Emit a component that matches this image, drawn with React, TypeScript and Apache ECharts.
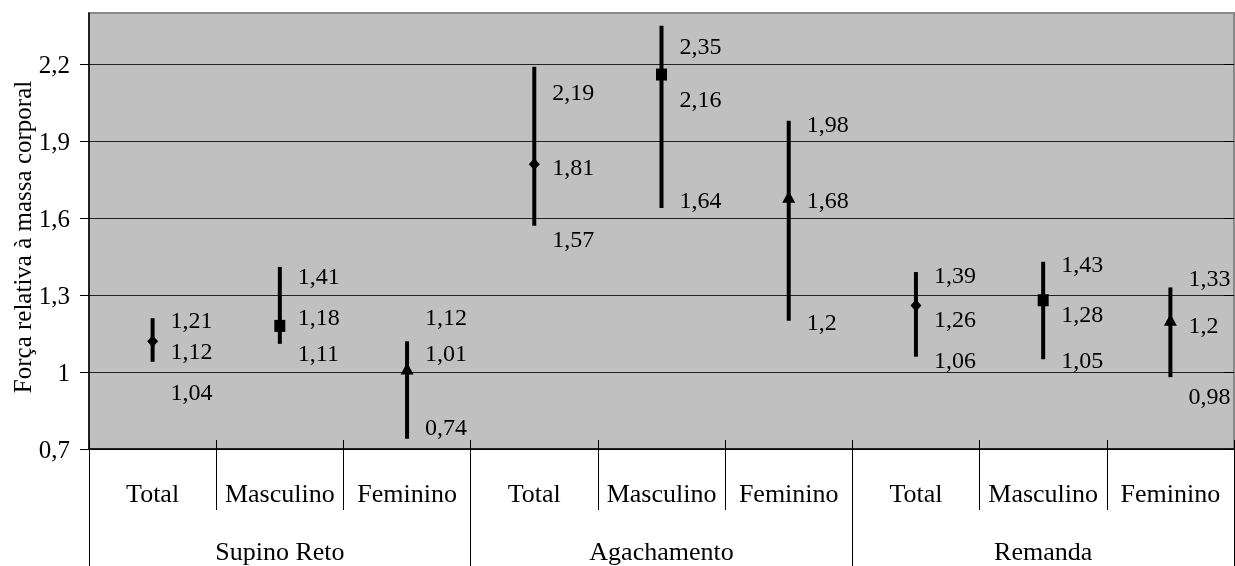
import React, { useEffect, useRef } from "react";
import * as echarts from "echarts";

const groups = ["Supino Reto", "Agachamento", "Remanda"];
const subcategories = ["Total", "Masculino", "Feminino"];
const highs = [1.21, 1.41, 1.12, 2.19, 2.35, 1.98, 1.39, 1.43, 1.33];
const means = [1.12, 1.18, 1.01, 1.81, 2.16, 1.68, 1.26, 1.28, 1.2];
const lows = [1.04, 1.11, 0.74, 1.57, 1.64, 1.2, 1.06, 1.05, 0.98];
const yTicks = [0.7, 1, 1.3, 1.6, 1.9, 2.2];

// label placement offsets (px) relative to each mark, as in the reference layout
const hiOff = [2, 9, -24, 25, 20, 3, 3, 2, -9];
const meanOff = [10, -9, -16, 3, 24, 2, 14, 14, 4];
const loOff = [30, 9, -12, 13, -8, 1, 3, 1, 19];

const categories = groups.flatMap(() => subcategories);
const FONT = '"Liberation Serif", "Times New Roman", serif';
const fmt = (v: number) => String(Math.round(v * 100) / 100).replace(".", ",");

export default function App() {
  const ref = useRef<HTMLDivElement>(null);
  useEffect(() => {
    document.body.style.margin = "0";
    const chart = echarts.init(ref.current!, undefined, { renderer: "svg" });
    const data = categories.map((_, i) => [i, highs[i], means[i], lows[i]]);
    chart.setOption({
      animation: false,
      textStyle: { fontFamily: FONT },
      grid: {
        left: 89,
        right: 1,
        top: 13,
        bottom: 117,
        show: true,
        containLabel: false,
        outerBoundsMode: "none",
        backgroundColor: "#c0c0c0",
        borderColor: "#8a8a8a",
        borderWidth: 2,
      },
      xAxis: [
        {
          type: "category",
          data: categories,
          position: "bottom",
          axisLine: { show: true, lineStyle: { color: "#000", width: 1.5 } },
          axisTick: { show: true, interval: 0, length: 61, lineStyle: { color: "#000", width: 1 } },
          axisLabel: { interval: 0, color: "#000", fontSize: 26, fontFamily: FONT, margin: 31 },
          splitLine: { show: false },
        },
        {
          type: "category",
          data: categories,
          position: "bottom",
          axisLine: { show: false },
          axisTick: { show: true, interval: 0, inside: true, length: 9, lineStyle: { color: "#000", width: 1 } },
          axisLabel: { show: false },
          splitLine: { show: false },
        },
        {
          type: "category",
          data: groups,
          position: "bottom",
          axisLine: { show: false },
          axisTick: { show: true, interval: 0, length: 117, lineStyle: { color: "#000", width: 1 } },
          axisLabel: { interval: 0, color: "#000", fontSize: 26, fontFamily: FONT, margin: 89 },
          splitLine: { show: false },
        },
      ],
      yAxis: [
        {
          type: "value",
          min: 0.7,
          max: 2.4,
          interval: 0.3,
          name: "Força relativa à massa corporal",
          nameLocation: "middle",
          nameRotate: 90,
          nameGap: 54,
          nameMoveOverlap: false,
          nameTextStyle: { color: "#000", fontSize: 25, fontFamily: FONT, padding: [0, 12, 0, 0] },
          axisLine: { show: true, lineStyle: { color: "#000", width: 1.5 } },
          axisTick: { show: true, length: 9, customValues: yTicks, lineStyle: { color: "#000" } },
          axisLabel: {
            color: "#000",
            fontSize: 25,
            fontFamily: FONT,
            margin: 19,
            customValues: yTicks,
            formatter: (v: number) => fmt(v),
          },
          splitLine: { show: true, lineStyle: { color: "#222", width: 1 } },
        },
        {
          type: "value",
          min: 0.7,
          max: 2.4,
          interval: 0.3,
          axisLine: { show: false },
          axisTick: { show: true, inside: true, length: 10, customValues: yTicks, lineStyle: { color: "#000" } },
          axisLabel: { show: false },
          splitLine: { show: false },
        },
      ],
      series: [
        {
          type: "custom",
          xAxisIndex: 0,
          yAxisIndex: 0,
          data,
          encode: { x: 0, y: [1, 2, 3] },
          renderItem: (params: any, api: any) => {
            const i = api.value(0);
            const hi = api.value(1);
            const m = api.value(2);
            const lo = api.value(3);
            const [x, yM] = api.coord([i, m]);
            const yH = api.coord([i, hi])[1];
            const yL = api.coord([i, lo])[1];
            const kind = i % 3;
            let marker: any;
            if (kind === 0) {
              marker = {
                type: "polygon",
                shape: { points: [[x, yM - 6], [x + 5.5, yM], [x, yM + 6], [x - 5.5, yM]] },
                style: { fill: "#000" },
              };
            } else if (kind === 1) {
              marker = {
                type: "rect",
                shape: { x: x - 5.5, y: yM - 6, width: 11, height: 12 },
                style: { fill: "#000" },
              };
            } else {
              marker = {
                type: "polygon",
                shape: { points: [[x, yM - 7], [x + 6.5, yM + 5], [x - 6.5, yM + 5]] },
                style: { fill: "#000" },
              };
            }
            const txt = (v: number, y: number) => ({
              type: "text",
              x: x + 18,
              y,
              style: {
                text: fmt(v),
                fill: "#000",
                fontSize: 24,
                fontFamily: FONT,
                align: "left",
                verticalAlign: "middle",
              },
            });
            return {
              type: "group",
              children: [
                {
                  type: "line",
                  shape: { x1: x, y1: yH, x2: x, y2: yL },
                  style: { stroke: "#000", lineWidth: 4 },
                },
                marker,
                txt(hi, yH + hiOff[i]),
                txt(m, yM + meanOff[i]),
                txt(lo, yL + loOff[i]),
              ],
            };
          },
        },
      ],
    });
    return () => chart.dispose();
  }, []);
  return <div ref={ref} style={{ position: "fixed", left: 0, top: 0, width: 1235, height: 566 }} />;
}
